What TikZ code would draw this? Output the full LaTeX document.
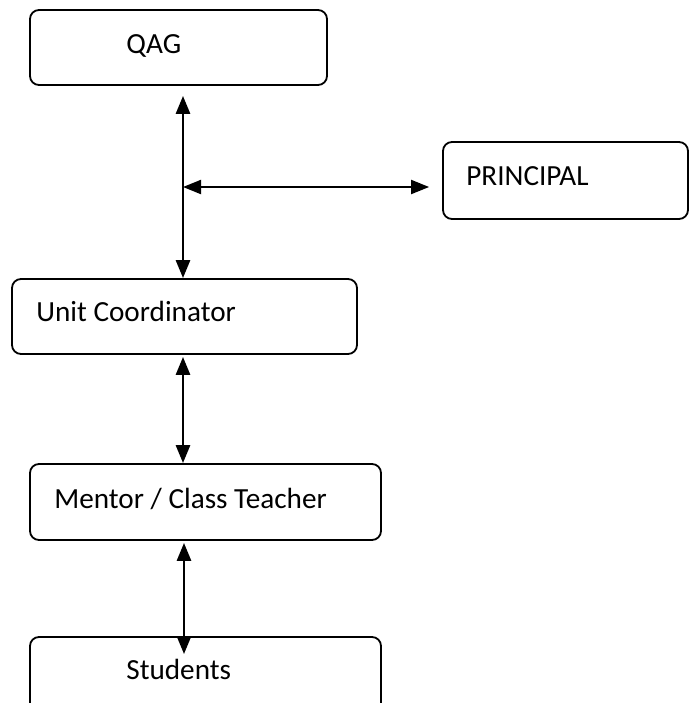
\documentclass[tikz,border=0pt]{standalone}
\usepackage{fontspec}
\setmainfont{Carlito}
\usetikzlibrary{arrows.meta}

\tikzset{
  box/.style={draw=black, line width=0.9pt, rounded corners=4.5pt, inner sep=0pt},
  boxtext/.style={anchor=base west, inner sep=0pt, font=\fontsize{14.6}{17}\selectfont},
  link/.style={{Triangle[length=9pt,width=7pt]}-{Triangle[length=9pt,width=7pt]}, line width=1.4pt},
}

\begin{document}
\begin{tikzpicture}[x=0.5pt, y=-0.5pt]

\useasboundingbox (0, 0) rectangle (691, 703);

% BOXES
  \node[box, minimum width=148.5pt, minimum height=37.5pt] (qag)       at (178.5,  47.5) {};
  \node[box, minimum width=122.5pt, minimum height=38.5pt] (principal) at (565.5, 180.5) {};
  \node[box, minimum width=172.5pt, minimum height=37.5pt] (unit)      at (184.5, 316.5) {};
  \node[box, minimum width=175.5pt, minimum height=38pt]   (mentor)    at (205.5, 502)   {};
  \node[box, minimum width=175.5pt, minimum height=38pt]   (students)  at (205.5, 675)   {};

% TEXTS
  \node[boxtext] (qagtext)       at (126,  53) {QAG};
  \node[boxtext] (principaltext) at (466, 185) {PRINCIPAL};
  \node[boxtext] (unittext)      at ( 36, 321) {Unit Coordinator};
  \node[boxtext] (mentortext)    at ( 54, 508) {Mentor / Class Teacher};
  \node[boxtext] (studentstext)  at (126, 679) {Students};

% ARROWS
  \coordinate (spine) at (183, 0);
  \coordinate (fork)  at (183, 187);
  \draw[link, shorten <=5pt] (qag.south -| spine) -- (unit.north -| spine);
  \draw[link, line width=1pt, shorten >=6.5pt] (fork) -- (fork -| principal.west);
  \draw[link, shorten <=1pt] (unit.south -| spine) -- (mentor.north -| spine);
  \draw[link, shorten <=1pt, shorten >=-9pt] ([xshift=0.5pt]mentor.south -| spine) -- ([xshift=0.5pt]students.north -| spine);

\end{tikzpicture}
\end{document}
